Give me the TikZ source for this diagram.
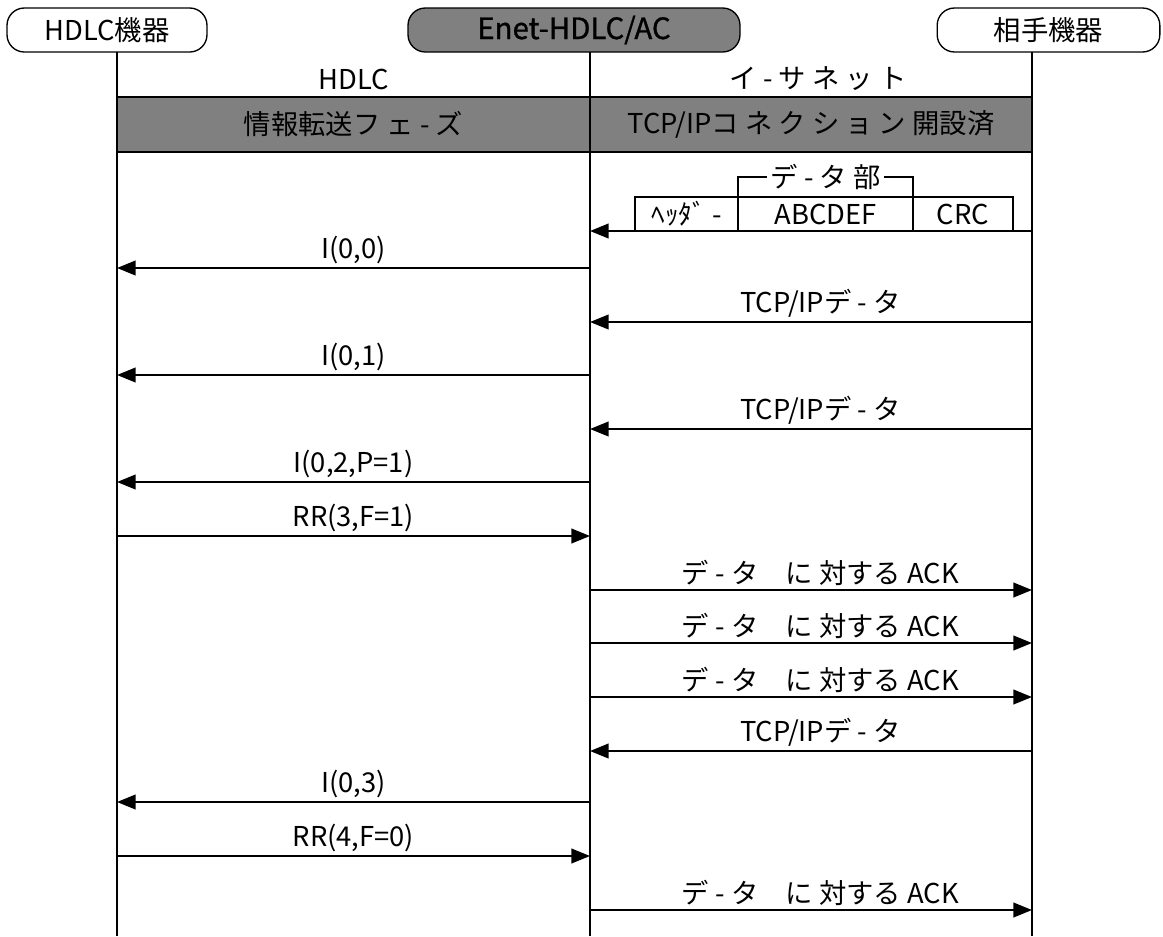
\documentclass[tikz,border=0pt]{standalone}
\usepackage{fontspec}
\setmainfont{Noto Sans CJK JP}
\newfontfamily\semibold[FakeBold=1]{Noto Sans CJK JP}
\usetikzlibrary{arrows.meta,positioning}
\definecolor{seqgray}{RGB}{128,128,128}

\begin{document}
\begin{tikzpicture}[x=0.75pt,y=-0.75pt,>={Triangle[length=14pt,width=11pt]},
    font=\fontsize{20.5}{24}\selectfont,
    dev/.style={draw,line width=1pt,rounded corners=13pt,minimum height=33pt,inner sep=0pt,
      font=\fontsize{20.5}{24}\selectfont},
    life/.style={line width=1pt},
    msg/.style={->,line width=1.5pt},
    lbl/.style={above,inner sep=2.5pt},
    band/.style={draw,line width=1.5pt,fill=seqgray},
    fld/.style={draw,line width=1pt,minimum height=25.5pt,inner sep=0pt,outer sep=0pt}]
  \useasboundingbox (0,0) rectangle (1163,936);
  % devices
  \node[dev,minimum width=150pt] (hdlc) at (107,30) {HDLC機器};
  \node[dev,minimum width=249pt,fill=seqgray] (enet) at (574,30) {\semibold\fontsize{22}{24}\selectfont Enet-HDLC/AC};
  \node[dev,minimum width=167pt] (peer) at (1048.5,30) {相手機器};
  % lifelines
  \coordinate (htop) at (117,52);  \coordinate (hbot) at (117,936);
  \coordinate (etop) at (590,52);  \coordinate (ebot) at (590,936);
  \coordinate (ptop) at (1032,52); \coordinate (pbot) at (1032,936);
  \draw[life] (htop) -- (hbot);
  \draw[life] (etop) -- (ebot);
  \draw[life] (ptop) -- (pbot);
  % line names and phase
  \node (hname) at (353.5,79) {HDLC};
  \node (ename) at (818,79) {イ - サ ネ ッ ト};
  \draw[band] (117,97) rectangle node (hphase) {情報転送フ ェ - ズ} (590,152);
  \draw[band] (590,97) rectangle node (ephase) {TCP/IPコ ネ ク シ ョ ン 開設済} (1032,152);
  % rows
  \foreach \r/\y in {1/231,2/268,3/322,4/375,5/429,6/482,7/536,8/590,9/643,10/697,11/751,12/802,13/856,14/910}{
    \coordinate (h\r) at (117,\y);
    \coordinate (e\r) at (590,\y);
    \coordinate (p\r) at (1032,\y);
  }
  % frame
  \node[fld,minimum width=77.25pt,anchor=south west] (hdr) at (635,231) {ﾍｯﾀﾞ -};
  \node[fld,minimum width=131.25pt,right=0pt of hdr] (dat) {ABCDEF};
  \node[fld,minimum width=75pt,right=0pt of dat] (crc) {CRC};
  \draw[line width=1pt] (dat.north west) -- ++(0,-20) -| node[pos=0.25,fill=white,inner sep=3pt] (datlbl) {デ - タ 部} (dat.north east);
  % messages
  \draw[msg] (p1) -- (e1);
  \draw[msg] (e2) -- node[lbl] {I(0,0)} (h2);
  \draw[msg] (p3) -- node[lbl,xshift=7pt] {TCP/IPデ - タ} (e3);
  \draw[msg] (e4) -- node[lbl] {I(0,1)} (h4);
  \draw[msg] (p5) -- node[lbl,xshift=7pt] {TCP/IPデ - タ} (e5);
  \draw[msg] (e6) -- node[lbl] {I(0,2,P=1)} (h6);
  \draw[msg] (h7) -- node[lbl] {RR(3,F=1)} (e7);
  \draw[msg] (e8) -- node[lbl,xshift=7pt] {デ - タ\quad に 対する ACK} (p8);
  \draw[msg] (e9) -- node[lbl,xshift=7pt] {デ - タ\quad に 対する ACK} (p9);
  \draw[msg] (e10) -- node[lbl,xshift=7pt] {デ - タ\quad に 対する ACK} (p10);
  \draw[msg] (p11) -- node[lbl,xshift=7pt] {TCP/IPデ - タ} (e11);
  \draw[msg] (e12) -- node[lbl] {I(0,3)} (h12);
  \draw[msg] (h13) -- node[lbl] {RR(4,F=0)} (e13);
  \draw[msg] (e14) -- node[lbl,xshift=7pt] {デ - タ\quad に 対する ACK} (p14);
\end{tikzpicture}
\end{document}
